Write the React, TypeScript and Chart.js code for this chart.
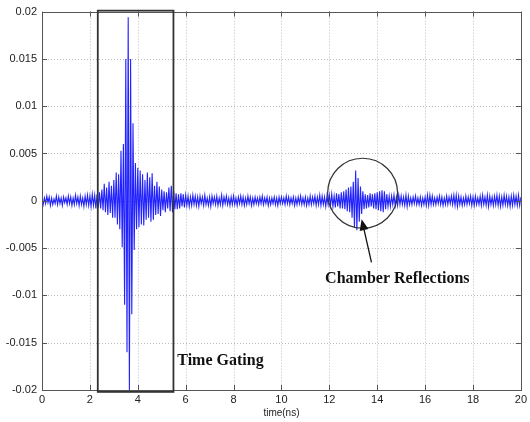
import React, { useEffect, useRef } from "react";
import { Chart, registerables } from "chart.js";

Chart.register(...registerables);

// Sampling grid of the recorded waveform (ns)
const T_START = 0;
const T_STEP = 0.05;
// Amplitudes below in units of 1e-4
const AMP_UNIT = 1e-4;

const signal0to5ns = [
  // 0 - 1 ns
  2, -4, 3, -3, 5, -2, 4, -5, 3, -4, 2, -3, 5, -4, 4, -3, 3, -5, 4, -2,
  // 1 - 2 ns
  3, -4, 5, -3, 4, -5, 3, -4, 6, -3, 4, -5, 5, -4, 3, -6, 5, -4, 6, -5,
  // 2 - 3 ns
  5, -6, 7, -5, 6, -8, 7, -7, 9, -8, 12, -10, 18, -12, 14, -15, 20, -13, 16, -18,
  // 3 - 4 ns (main pulse)
  22, -18, 30, -25, 28, -30, 53, -49, 60, -110, 150, -160, 194, -200, 150, -120, 82, -52, 40, -30,
  // 4 - 5 ns
  35, -28, 32, -25, 28, -26, 22, -20, 30, -18, 25, -22, 29, -20, 16, -15, 20, -14, 15, -16,
];
const signal5to12ns = [
  12, -10, 10, -12, 9, -8, 14, -11, 16, -12, 10, -9, 8, -9, 7, -8, 8, -6, 7, -7,
  6, -5, 5, -6, 4, -5, 6, -4, 5, -5, 4, -6, 5, -3, 4, -5, 6, -4, 3, -5,
  4, -6, 5, -3, 4, -4, 5, -5, 3, -4, 6, -5, 4, -3, 5, -4, 3, -5, 4, -4,
  5, -4, 3, -5, 4, -3, 5, -4, 4, -5, 3, -4, 5, -3, 4, -5, 3, -4, 4, -3,
  3, -4, 4, -3, 5, -4, 3, -3, 4, -5, 3, -4, 3, -3, 4, -4, 3, -5, 4, -3,
  4, -3, 3, -4, 5, -3, 4, -4, 3, -3, 4, -5, 3, -4, 4, -3, 5, -4, 3, -4,
  4, -5, 3, -4, 5, -4, 4, -3, 5, -5, 4, -4, 6, -5, 5, -4, 4, -6, 5, -4,
];
const signal12to15ns = [
  // 12 - 13 ns
  6, -5, 7, -6, 5, -7, 8, -6, 7, -8, 9, -8, 10, -9, 12, -11, 14, -12, 15, -18,
  // 13 - 14 ns (chamber reflection)
  20, -28, 32, -31, 24, -22, 15, -14, 10, -9, 7, -8, 6, -7, 8, -6, 7, -8, 8, -9,
  // 14 - 15 ns
  9, -10, 10, -11, 11, -12, 10, -9, 7, -6, 5, -6, 5, -4, 6, -5, 4, -5, 6, -4,
];
const signal15to20ns = [
  5, -4, 4, -5, 6, -6, 5, -4, 3, -4, 4, -3, 5, -4, 3, -4, 4, -5, 3, -4,
  4, -5, 6, -5, 6, -4, 5, -4, 3, -4, 4, -3, 5, -4, 4, -5, 3, -4, 5, -4,
  4, -3, 5, -4, 6, -5, 6, -6, 5, -4, 4, -5, 3, -4, 5, -4, 4, -3, 5, -5,
  4, -5, 5, -4, 3, -4, 5, -5, 6, -4, 4, -5, 6, -6, 5, -4, 4, -5, 5, -4,
  6, -5, 5, -6, 4, -5, 6, -4, 5, -5, 4, -6, 5, -5, 6, -4, 5, -5, 6, -5,
  4,
];

const xTickValues = [0, 2, 4, 6, 8, 10, 12, 14, 16, 18, 20];
const yTickValues = [-0.02, -0.015, -0.01, -0.005, 0, 0.005, 0.01, 0.015, 0.02];

// Annotations (data coordinates)
const gateBox = { x0: 2.33, x1: 5.49, y0: -0.0202, y1: 0.0201 };
const reflectionCircle = { x: 13.39, y: 0.0008 };
const arrowTail = { x: 13.76, y: -0.0065 };
const arrowTip = { x: 13.35, y: -0.00195 };
const gateLabel = { x: 5.65, y: -0.0169, text: "Time Gating" };
const reflectionLabel = { x: 14.84, y: -0.0082, text: "Chamber Reflections" };
const xAxisTitle = "time(ns)";

export default function App() {
  const canvasRef = useRef<HTMLCanvasElement | null>(null);

  useEffect(() => {
    const canvas = canvasRef.current;
    if (!canvas) return;
    const values = [...signal0to5ns, ...signal5to12ns, ...signal12to15ns, ...signal15to20ns];
    const points = values.map((v, i) => ({ x: T_START + i * T_STEP, y: v * AMP_UNIT }));

    const fmt = (v: number) => String(Number(Number(v).toFixed(3)));

    const decor = {
      id: "matlabDecor",
      beforeDatasetsDraw(chart: any) {
        const { ctx, chartArea: a, scales } = chart;
        const xs = scales.x, ys = scales.y;
        ctx.save();
        ctx.strokeStyle = "rgba(160,160,160,0.7)";
        ctx.lineWidth = 1;
        ctx.setLineDash([1, 2]);
        xTickValues.forEach((v) => {
          if (v === 0 || v === 20) return;
          const px = Math.round(xs.getPixelForValue(v)) + 0.5;
          ctx.beginPath();
          ctx.moveTo(px, a.top);
          ctx.lineTo(px, a.bottom);
          ctx.stroke();
        });
        yTickValues.forEach((v) => {
          if (v === -0.02 || v === 0.02) return;
          const py = Math.round(ys.getPixelForValue(v)) + 0.5;
          ctx.beginPath();
          ctx.moveTo(a.left, py);
          ctx.lineTo(a.right, py);
          ctx.stroke();
        });
        ctx.restore();
      },
      afterDatasetsDraw(chart: any) {
        const { ctx, chartArea: a, scales } = chart;
        const xs = scales.x, ys = scales.y;
        const X = (v: number) => xs.getPixelForValue(v);
        const Y = (v: number) => ys.getPixelForValue(v);
        ctx.save();
        // frame
        ctx.strokeStyle = "#555";
        ctx.lineWidth = 1;
        ctx.setLineDash([]);
        ctx.strokeRect(Math.round(a.left) + 0.5, Math.round(a.top) + 0.5, Math.round(a.right - a.left), Math.round(a.bottom - a.top));
        // inner tick marks
        const tl = 5;
        ctx.beginPath();
        xTickValues.forEach((v) => {
          const px = Math.round(X(v)) + 0.5;
          ctx.moveTo(px, a.bottom);
          ctx.lineTo(px, a.bottom - tl);
          ctx.moveTo(px, a.top);
          ctx.lineTo(px, a.top + tl);
        });
        yTickValues.forEach((v) => {
          const py = Math.round(Y(v)) + 0.5;
          ctx.moveTo(a.left, py);
          ctx.lineTo(a.left + tl, py);
          ctx.moveTo(a.right, py);
          ctx.lineTo(a.right - tl, py);
        });
        ctx.stroke();

        // time-gating box
        ctx.strokeStyle = "#333";
        ctx.lineWidth = 1.8;
        const bx0 = X(gateBox.x0), bx1 = X(gateBox.x1);
        const by0 = Y(gateBox.y1), by1 = Y(gateBox.y0);
        ctx.strokeRect(bx0, by0, bx1 - bx0, by1 - by0);

        // reflection circle
        ctx.lineWidth = 1.2;
        ctx.beginPath();
        ctx.arc(X(reflectionCircle.x), Y(reflectionCircle.y), 35, 0, Math.PI * 2);
        ctx.stroke();

        // arrow
        const tx = X(arrowTail.x), ty = Y(arrowTail.y);
        const hx = X(arrowTip.x), hy = Y(arrowTip.y);
        const ang = Math.atan2(hy - ty, hx - tx);
        const headLen = 11, headW = 4.5;
        const bxh = hx - headLen * Math.cos(ang), byh = hy - headLen * Math.sin(ang);
        ctx.strokeStyle = "#111";
        ctx.lineWidth = 1.3;
        ctx.beginPath();
        ctx.moveTo(tx, ty);
        ctx.lineTo(bxh, byh);
        ctx.stroke();
        ctx.fillStyle = "#111";
        ctx.beginPath();
        ctx.moveTo(hx, hy);
        ctx.lineTo(bxh + headW * Math.sin(ang), byh - headW * Math.cos(ang));
        ctx.lineTo(bxh - headW * Math.sin(ang), byh + headW * Math.cos(ang));
        ctx.closePath();
        ctx.fill();

        // labels
        ctx.fillStyle = "#111";
        ctx.font = 'bold 16px "Liberation Serif", "Times New Roman", serif';
        ctx.textBaseline = "middle";
        ctx.textAlign = "left";
        ctx.fillText(gateLabel.text, X(gateLabel.x), Y(gateLabel.y));
        ctx.textAlign = "center";
        ctx.fillText(reflectionLabel.text, X(reflectionLabel.x), Y(reflectionLabel.y));

        // x axis title
        ctx.font = '10px "Liberation Sans", Arial, sans-serif';
        ctx.fillStyle = "#222";
        ctx.fillText(xAxisTitle, (a.left + a.right) / 2, 413);
        ctx.restore();
      },
    };

    const tickFont = { family: '"Liberation Sans", Arial, sans-serif', size: 11 };

    const chart = new Chart(canvas, {
      type: "line",
      data: {
        datasets: [
          {
            data: points,
            borderColor: "rgba(10,10,255,0.9)",
            borderWidth: 1.1,
            pointRadius: 0,
            tension: 0,
            fill: false,
          },
        ],
      },
      options: {
        responsive: false,
        animation: false,
        parsing: false,
        normalized: true,
        events: [],
        layout: { padding: { top: 11, right: 7, left: 0, bottom: 0 } },
        plugins: { legend: { display: false }, tooltip: { enabled: false }, title: { display: false } },
        scales: {
          x: {
            type: "linear",
            min: 0,
            max: 20,
            ticks: { stepSize: 2, font: tickFont, color: "#222", padding: 3, maxRotation: 0, autoSkip: false },
            grid: { display: false, drawTicks: false },
            border: { display: false },
            afterFit: (s: any) => {
              s.height = 32;
            },
          },
          y: {
            type: "linear",
            min: -0.02,
            max: 0.02,
            ticks: {
              stepSize: 0.005,
              font: tickFont,
              color: "#222",
              padding: 5,
              autoSkip: false,
              callback: (v: any) => fmt(v),
            },
            grid: { display: false, drawTicks: false },
            border: { display: false },
            afterFit: (s: any) => {
              s.width = 42;
            },
          },
        },
      } as any,
      plugins: [decor],
    });

    return () => chart.destroy();
  }, []);

  return (
    <div style={{ position: "absolute", left: 0, top: 0, width: 530, height: 422, background: "#fff" }}>
      <canvas ref={canvasRef} width={530} height={422} style={{ width: 530, height: 422, display: "block" }} />
    </div>
  );
}
